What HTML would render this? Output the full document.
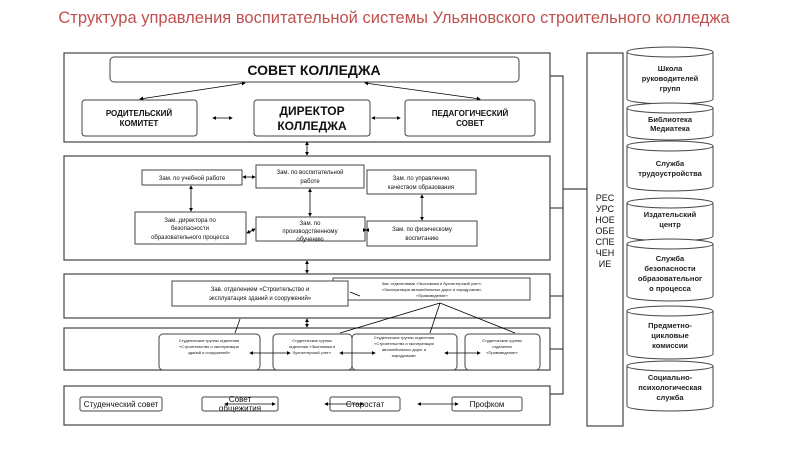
<!DOCTYPE html>
<html><head><meta charset="utf-8"><style>
html,body{margin:0;padding:0;background:#fff;}
svg{display:block;font-family:"Liberation Sans","Noto Sans CJK SC",sans-serif;}
</style></head><body>
<svg width="800" height="450" viewBox="0 0 800 450" xmlns="http://www.w3.org/2000/svg">
<defs>
<marker id="a" markerWidth="5" markerHeight="5" refX="4" refY="2.5" orient="auto"><path d="M0,0 L5,2.5 L0,5z" fill="#000"/></marker>
<marker id="b" markerWidth="5" markerHeight="5" refX="1" refY="2.5" orient="auto"><path d="M5,0 L0,2.5 L5,5z" fill="#000"/></marker>
</defs>
<text x="394" y="23" font-size="16.5" fill="#c0504d" text-anchor="middle">Структура управления воспитательной системы Ульяновского строительного колледжа</text>
<g fill="none" stroke="#444" stroke-width="1.2">
<rect x="64" y="53" width="486" height="89"/>
<rect x="64" y="156" width="486" height="104"/>
<rect x="64" y="274" width="486" height="44"/>
<rect x="64" y="328" width="486" height="42"/>
<rect x="64" y="386" width="486" height="39"/>
<rect x="587" y="53" width="36" height="373"/>
<polyline points="550,76 563,76 563,394 550,394"/>
<line x1="550" y1="208" x2="563" y2="208"/>
<line x1="550" y1="296" x2="563" y2="296"/>
<line x1="550" y1="349" x2="563" y2="349"/>
<line x1="563" y1="189" x2="587" y2="189"/>
</g>
<g fill="#fff" stroke="#444" stroke-width="1">
<rect x="110" y="57" width="409" height="25" rx="4"/>
<rect x="82" y="100" width="115" height="36" rx="3"/>
<rect x="254" y="100" width="116" height="36" rx="3"/>
<rect x="405" y="100" width="130" height="36" rx="3"/>
<rect x="142" y="170" width="100" height="15"/>
<rect x="256" y="165" width="108" height="23"/>
<rect x="367" y="170" width="109" height="24"/>
<rect x="135" y="212" width="111" height="32"/>
<rect x="256" y="217" width="109" height="24"/>
<rect x="367" y="221" width="110" height="25"/>
<rect x="333" y="278" width="197" height="22"/>
<rect x="172" y="281" width="176" height="25"/>
<rect x="159" y="334" width="101" height="36" rx="4"/>
<rect x="273" y="334" width="79" height="36" rx="4"/>
<rect x="352" y="334" width="105" height="36" rx="4"/>
<rect x="465" y="334" width="75" height="36" rx="4"/>
<rect x="80" y="397" width="82" height="14" rx="2"/>
<rect x="202" y="397" width="76" height="14" rx="2"/>
<rect x="330" y="397" width="70" height="14" rx="2"/>
<rect x="452" y="397" width="70" height="14" rx="2"/>
</g>
<g stroke="#000" stroke-width="0.8" fill="none" marker-end="url(#a)" marker-start="url(#b)">
<line x1="140" y1="99" x2="245" y2="83"/>
<line x1="480" y1="99" x2="365" y2="83"/>
<line x1="213" y1="118" x2="232" y2="118"/>
<line x1="372" y1="118" x2="400" y2="118"/>
<line x1="307" y1="142" x2="307" y2="155"/>
<line x1="243" y1="177" x2="255" y2="177"/>
<line x1="191" y1="186" x2="191" y2="211"/>
<line x1="310" y1="189" x2="310" y2="216"/>
<line x1="422" y1="195" x2="422" y2="220"/>
<line x1="247" y1="233" x2="255" y2="229"/>
<line x1="366" y1="230" x2="366" y2="230"/>
<line x1="307" y1="261" x2="307" y2="273"/>
<line x1="307" y1="319" x2="307" y2="327"/>
<line x1="250" y1="353" x2="290" y2="353"/>
<line x1="340" y1="353" x2="375" y2="353"/>
<line x1="445" y1="353" x2="480" y2="353"/>
<line x1="225" y1="404" x2="275" y2="404"/>
<line x1="325" y1="404" x2="363" y2="404"/>
<line x1="418" y1="404" x2="458" y2="404"/>
</g>
<g stroke="#000" stroke-width="0.8">
<line x1="240" y1="319" x2="235" y2="333"/>
<line x1="440" y1="303" x2="340" y2="333"/>
<line x1="440" y1="303" x2="430" y2="333"/>
<line x1="440" y1="303" x2="515" y2="333"/>
<line x1="350" y1="292" x2="360" y2="296"/>
</g>
<g text-anchor="middle" fill="#111">
<text x="314" y="75" font-size="14" font-weight="bold">СОВЕТ КОЛЛЕДЖА</text>
<text x="139" y="116" font-size="8" font-weight="bold">РОДИТЕЛЬСКИЙ</text>
<text x="139" y="126" font-size="8" font-weight="bold">КОМИТЕТ</text>
<text x="312" y="115" font-size="12" font-weight="bold">ДИРЕКТОР</text>
<text x="312" y="130" font-size="12" font-weight="bold">КОЛЛЕДЖА</text>
<text x="470" y="116" font-size="8" font-weight="bold">ПЕДАГОГИЧЕСКИЙ</text>
<text x="470" y="126" font-size="8" font-weight="bold">СОВЕТ</text>
<g font-size="6">
<text x="192" y="180">Зам. по учебной работе</text>
<text x="310" y="174">Зам. по воспитательной</text>
<text x="310" y="183">работе</text>
<text x="421" y="180">Зам. по управлению</text>
<text x="421" y="189">качеством образования</text>
<text x="190" y="222">Зам. директора по</text>
<text x="190" y="230">безопасности</text>
<text x="190" y="239">образовательного процесса</text>
<text x="310" y="225">Зам. по</text>
<text x="310" y="233">производственному</text>
<text x="310" y="241">обучению</text>
<text x="422" y="231">Зам. по физическому</text>
<text x="422" y="240">воспитанию</text>
<text x="260" y="291">Зав. отделением «Строительство и</text>
<text x="260" y="300">эксплуатация зданий и сооружений»</text>
</g>
<g font-size="4">
<text x="432" y="285">Зав. отделениями «Экономика и бухгалтерский учет»,</text>
<text x="432" y="291">«Эксплуатация автомобильных дорог и аэродромов»,</text>
<text x="432" y="297">«Правоведение»</text>
<text x="209" y="342">Студенческие группы отделения</text>
<text x="209" y="348">«Строительство и эксплуатация</text>
<text x="209" y="354">зданий и сооружений»</text>
<text x="312" y="342">Студенческие группы</text>
<text x="312" y="348">отделения «Экономика и</text>
<text x="312" y="354">бухгалтерский учет»</text>
<text x="404" y="339">Студенческие группы отделения</text>
<text x="404" y="345">«Строительство и эксплуатация</text>
<text x="404" y="351">автомобильных дорог и</text>
<text x="404" y="357">аэродромов»</text>
<text x="502" y="342">Студенческие группы</text>
<text x="502" y="348">отделения</text>
<text x="502" y="354">«Правоведение»</text>
</g>
<g font-size="8">
<text x="121" y="407">Студенческий совет</text>
<text x="240" y="402">Совет</text>
<text x="240" y="411">общежития</text>
<text x="365" y="407">Старостат</text>
<text x="487" y="407">Профком</text>
</g>
<g font-size="9">
<text x="605" y="201">РЕС</text>
<text x="605" y="212">УРС</text>
<text x="605" y="223">НОЕ</text>
<text x="605" y="234">ОБЕ</text>
<text x="605" y="245">СПЕ</text>
<text x="605" y="256">ЧЕН</text>
<text x="605" y="267">ИЕ</text>
</g>
</g>
<g fill="#fff" stroke="#444" stroke-width="1">
<path d="M627,52 v47 a43,5 0 0 0 86,0 v-47"/><ellipse cx="670" cy="52" rx="43" ry="5"/>
<path d="M627,108 v27 a43,5 0 0 0 86,0 v-27"/><ellipse cx="670" cy="108" rx="43" ry="5"/>
<path d="M627,146 v40 a43,5 0 0 0 86,0 v-40"/><ellipse cx="670" cy="146" rx="43" ry="5"/>
<path d="M627,203 v33 a43,5 0 0 0 86,0 v-33"/><ellipse cx="670" cy="203" rx="43" ry="5"/>
<path d="M627,244 v52 a43,5 0 0 0 86,0 v-52"/><ellipse cx="670" cy="244" rx="43" ry="5"/>
<path d="M627,311 v43 a43,5 0 0 0 86,0 v-43"/><ellipse cx="670" cy="311" rx="43" ry="5"/>
<path d="M627,366 v40 a43,5 0 0 0 86,0 v-40"/><ellipse cx="670" cy="366" rx="43" ry="5"/>
</g>
<g text-anchor="middle" font-size="7.5" font-weight="bold" fill="#222">
<text x="670" y="71">Школа</text><text x="670" y="81">руководителей</text><text x="670" y="91">групп</text>
<text x="670" y="122">Библиотека</text><text x="670" y="131">Медиатека</text>
<text x="670" y="166">Служба</text><text x="670" y="176">трудоустройства</text>
<text x="670" y="217">Издательский</text><text x="670" y="227">центр</text>
<text x="670" y="261">Служба</text><text x="670" y="271">безопасности</text><text x="670" y="281">образовательног</text><text x="670" y="291">о процесса</text>
<text x="670" y="328">Предметно-</text><text x="670" y="338">цикловые</text><text x="670" y="348">комиссии</text>
<text x="670" y="380">Социально-</text><text x="670" y="390">психологическая</text><text x="670" y="400">служба</text>
</g>
</svg>
</body></html>
